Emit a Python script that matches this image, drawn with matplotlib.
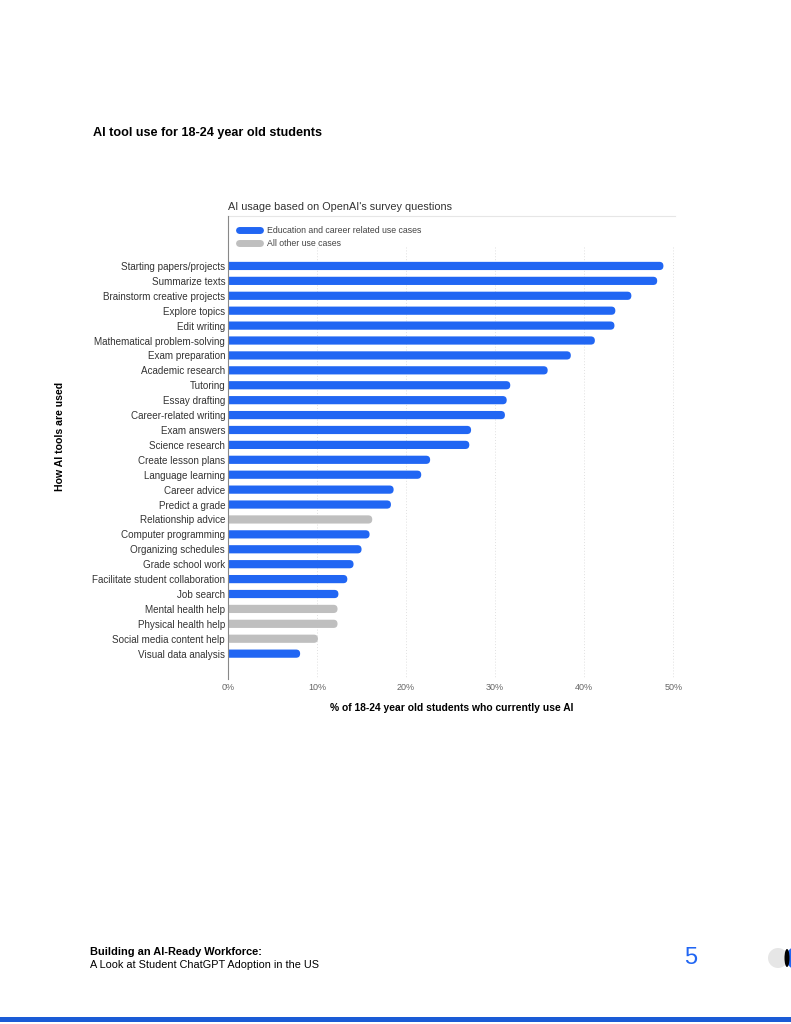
import matplotlib.pyplot as plt
from matplotlib.patches import FancyBboxPatch, Rectangle, Circle, Ellipse
from matplotlib.lines import Line2D

# data (share of 18-24 year old students, %)
use_cases = ["Starting papers/projects", "Summarize texts", "Brainstorm creative projects",
             "Explore topics", "Edit writing", "Mathematical problem-solving",
             "Exam preparation", "Academic research", "Tutoring", "Essay drafting",
             "Career-related writing", "Exam answers", "Science research",
             "Create lesson plans", "Language learning", "Career advice",
             "Predict a grade", "Relationship advice", "Computer programming",
             "Organizing schedules", "Grade school work", "Facilitate student collaboration",
             "Job search", "Mental health help", "Physical health help",
             "Social media content help", "Visual data analysis"]
share = [48.9, 48.2, 45.3, 43.5, 43.4, 41.2, 38.5, 35.9, 31.7, 31.3,
         31.1, 27.3, 27.1, 22.7, 21.7, 18.6, 18.3, 16.2, 15.9, 15.0,
         14.1, 13.4, 12.4, 12.3, 12.3, 10.1, 8.1]
education = [True, True, True, True, True, True, True, True, True, True,
             True, True, True, True, True, True, True, False, True, True,
             True, True, True, False, False, False, True]
x_ticks = [0, 10, 20, 30, 40, 50]
x_tick_labels = ["0%", "10%", "20%", "30%", "40%", "50%"]

blue = "#2166F3"
grey = "#BFBFBF"

plt.rcParams["font.family"] = ["Liberation Sans", "DejaVu Sans"]

fig = plt.figure(figsize=(7.91, 10.24), dpi=100)
ax = fig.add_axes([228 / 791, 1 - 679 / 1024, 447 / 791, 463 / 1024])

bar_h = 0.55
for i, (v, edu) in enumerate(zip(share, education)):
    p = FancyBboxPatch((-0.6, i - bar_h / 2), v + 0.6, bar_h,
                       boxstyle="round,pad=0,rounding_size=0.45",
                       mutation_aspect=0.6, fc=blue if edu else grey,
                       ec="none", zorder=3)
    ax.add_patch(p)

ax.set_xlim(0, 50.2)
ax.set_ylim(27.7, -3.35)

# dotted gridlines below the legend
ax.vlines(x_ticks[1:], -1.3, 27.7, colors="#e0e0e0", linestyles=(0, (1, 2)),
          linewidth=0.7, zorder=1)

ax.set_yticks(range(len(use_cases)))
ax.set_yticklabels(use_cases, fontsize=7.1, color="#333333")
ax.set_xticks(x_ticks)
ax.set_xticklabels(x_tick_labels, fontsize=6.5, color="#666666")
ax.tick_params(axis="both", length=0, pad=2)
ax.tick_params(axis="x", pad=3)

for s in ["right", "bottom"]:
    ax.spines[s].set_visible(False)
ax.spines["top"].set_color("#e6e6e6")
ax.spines["top"].set_linewidth(0.8)
ax.spines["left"].set_color("#888888")
ax.spines["left"].set_linewidth(0.8)
ax.spines["left"].set_zorder(5)

handles = [Line2D([0], [0], color=blue, lw=5, solid_capstyle="round"),
           Line2D([0], [0], color=grey, lw=5, solid_capstyle="round")]
ax.legend(handles, ["Education and career related use cases", "All other use cases"],
          loc="upper left", bbox_to_anchor=(0.008, 0.995), frameon=False,
          fontsize=6.3, labelcolor="#444444", handlelength=2.3, handletextpad=0.8,
          labelspacing=0.4)

ax.set_title("AI usage based on OpenAI's survey questions", loc="left",
             fontsize=7.8, color="#333333", pad=4)
ax.set_xlabel("% of 18-24 year old students who currently use AI",
              fontsize=7.4, fontweight="bold", labelpad=8)

fig.text(60 / 791, 1 - 436 / 1024, "How AI tools are used", rotation=90,
         fontsize=7.6, fontweight="bold", ha="center", va="center")
fig.text(93 / 791, 1 - 133 / 1024, "AI tool use for 18-24 year old students",
         fontsize=9.1, fontweight="bold", ha="left", va="center")

# footer
fig.text(90 / 791, 1 - 952 / 1024, "Building an AI-Ready Workforce:",
         fontsize=7.9, fontweight="bold", ha="left", va="center")
fig.text(90 / 791, 1 - 965 / 1024, "A Look at Student ChatGPT Adoption in the US",
         fontsize=7.8, ha="left", va="center")
fig.text(691 / 791, 1 - 958 / 1024, "5", fontsize=17, color=blue,
         ha="center", va="center")

fx = fig.add_axes([0, 0, 1, 1], zorder=-1)
fx.set_xlim(0, 791)
fx.set_ylim(1024, 0)
fx.axis("off")
fx.add_patch(Circle((778, 958), 10, fc="#e6e6e6", ec="none"))
fx.add_patch(Circle((798, 958), 12, fc=blue, ec="none"))
fx.add_patch(Ellipse((787, 958), 5, 18, fc="black", ec="none"))
fx.add_patch(Rectangle((0, 1017), 791, 5, fc="#1A5BD6", ec="none"))

fig.savefig("out.png", dpi=100)
